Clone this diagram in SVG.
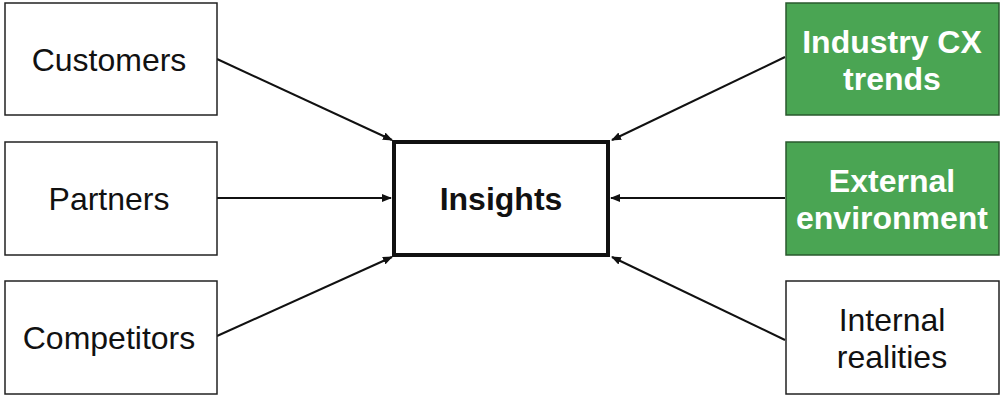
<svg xmlns="http://www.w3.org/2000/svg" width="1006" height="400" viewBox="0 0 1006 400">
<style>
.b{fill:#fff;stroke:#222;stroke-width:1.5}
.g{fill:#4aa553;stroke:#2a5a2e;stroke-width:1.5}
.t{font-family:"Helvetica","Liberation Sans",Arial,sans-serif;font-size:32px;text-anchor:middle;fill:#111}
.w{fill:#fff;font-weight:bold}
.c line{stroke:#111;stroke-width:2;marker-end:url(#a)}
</style>
<defs><marker id="a" markerWidth="10" markerHeight="8" refX="9" refY="4" orient="auto" markerUnits="userSpaceOnUse"><path d="M0,0L10,4L0,8z" fill="#111"/></marker></defs>
<g class="c">
<line x1="217" y1="59" x2="392" y2="140"/>
<line x1="217" y1="198" x2="391" y2="198"/>
<line x1="217" y1="336" x2="392" y2="257"/>
<line x1="785" y1="57" x2="612" y2="140"/>
<line x1="785" y1="198" x2="611" y2="198"/>
<line x1="785" y1="340" x2="612" y2="257"/>
</g>
<g id="customers"><rect class="b" x="5" y="3" width="212" height="112"/><text class="t" x="109" y="71">Customers</text></g>
<g id="partners"><rect class="b" x="5" y="142" width="212" height="113"/><text class="t" x="109" y="210">Partners</text></g>
<g id="competitors"><rect class="b" x="5" y="281" width="212" height="113"/><text class="t" x="109" y="349">Competitors</text></g>
<g id="insights"><rect x="394" y="142" width="214" height="113" fill="#fff" stroke="#111" stroke-width="4"/><text class="t" x="501" y="210" font-weight="bold">Insights</text></g>
<g id="industry"><rect class="g" x="786" y="3" width="213" height="112"/><text class="t w" x="892" y="53">Industry CX</text><text class="t w" x="892" y="90">trends</text></g>
<g id="external"><rect class="g" x="786" y="142" width="213" height="113"/><text class="t w" x="892" y="192">External</text><text class="t w" x="892" y="229">environment</text></g>
<g id="internal"><rect class="b" x="786" y="281" width="213" height="113"/><text class="t" x="892" y="331">Internal</text><text class="t" x="892" y="368">realities</text></g>
</svg>
